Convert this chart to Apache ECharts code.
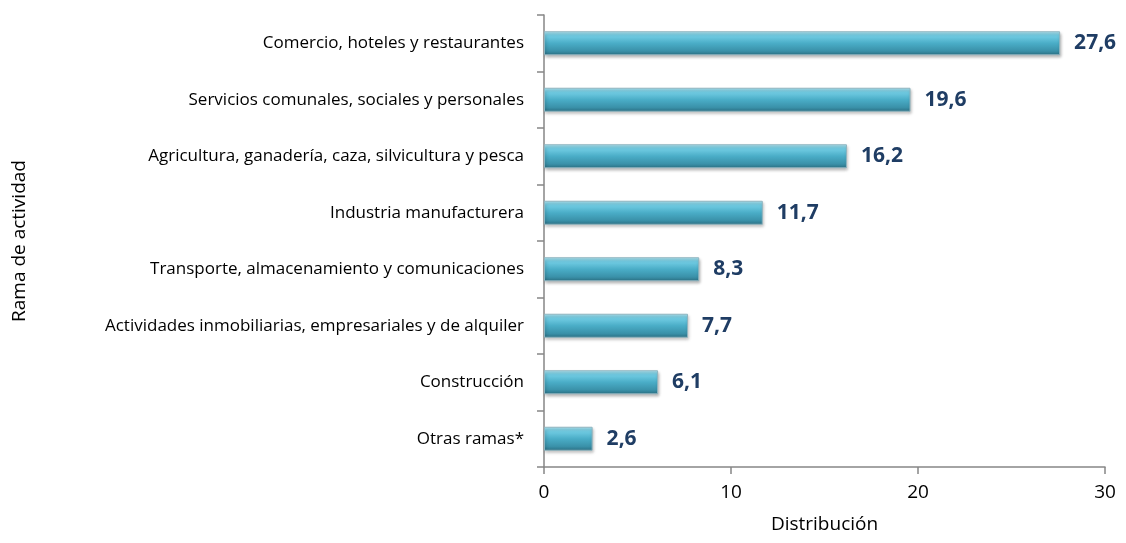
<!DOCTYPE html>
<html lang="es">
  <head>
    <meta charset="UTF-8" />
    <title>Rama de actividad</title>
    <script src="https://cdn.jsdelivr.net/npm/echarts@6.0.0/dist/echarts.min.js"></script>
    <style>
      html, body { margin: 0; padding: 0; background: #fff; }
      #main { width: 1126px; height: 543px; }
    </style>
  </head>
  <body>
    <div id="main"></div>
    <script>
      // bottom to top, as drawn on the category axis
      const categories = [
        "Otras ramas*",
        "Construcción",
        "Actividades inmobiliarias, empresariales y de alquiler",
        "Transporte, almacenamiento y comunicaciones",
        "Industria manufacturera",
        "Agricultura, ganadería, caza, silvicultura y pesca",
        "Servicios comunales, sociales y personales",
        "Comercio, hoteles y restaurantes",
      ];
      const values = [2.6, 6.1, 7.7, 8.3, 11.7, 16.2, 19.6, 27.6];
      const xTicks = [0, 10, 20, 30];

      const font = "'Open Sans', 'Noto Sans', sans-serif";
      const chart = echarts.init(document.getElementById("main"));

      const option = {
        animation: false,
        textStyle: { fontFamily: font },
        grid: { left: 544, right: 21, top: 15, bottom: 76, containLabel: false },
        xAxis: {
          type: "value",
          min: xTicks[0],
          max: xTicks[xTicks.length - 1],
          interval: 10,
          name: "Distribución",
          nameLocation: "middle",
          nameGap: 48,
          nameTextStyle: { fontSize: 19, color: "#000", fontFamily: font },
          axisLine: { show: true, lineStyle: { color: "#868686", width: 1.5 } },
          axisTick: { show: true, length: 7, lineStyle: { color: "#868686", width: 1.5 } },
          axisLabel: { fontSize: 19, color: "#000", margin: 16, fontFamily: font },
          splitLine: { show: false },
        },
        yAxis: {
          type: "category",
          data: categories,
          name: "Rama de actividad",
          nameLocation: "middle",
          nameRotate: 90,
          nameGap: 515,
          nameTextStyle: { fontSize: 19, color: "#000", fontFamily: font },
          axisLine: { show: true, lineStyle: { color: "#868686", width: 1.5 } },
          axisTick: { show: true, length: 7, lineStyle: { color: "#868686", width: 1.5 } },
          axisLabel: { fontSize: 17, color: "#000", margin: 20, fontFamily: font },
        },
        series: [
          {
            type: "bar",
            data: values,
            barWidth: 24,
            itemStyle: {
              borderColor: "#8fb5c0",
              borderWidth: 1,
              shadowColor: "rgba(0,0,0,0.3)",
              shadowBlur: 3,
              shadowOffsetX: 1,
              shadowOffsetY: 2,
              color: new echarts.graphic.LinearGradient(0, 0, 0, 1, [
                { offset: 0, color: "#b2e8f5" },
                { offset: 0.18, color: "#72cde4" },
                { offset: 0.5, color: "#4aadc7" },
                { offset: 0.82, color: "#3a91a9" },
                { offset: 1, color: "#2a6e82" },
              ]),
            },
            label: {
              show: true,
              position: "right",
              distance: 14,
              fontSize: 21,
              fontWeight: "bold",
              color: "#1f3d64",
              fontFamily: font,
              formatter: (p) => p.value.toFixed(1).replace(".", ","),
            },
          },
        ],
      };
      chart.setOption(option);
    </script>
  </body>
</html>
